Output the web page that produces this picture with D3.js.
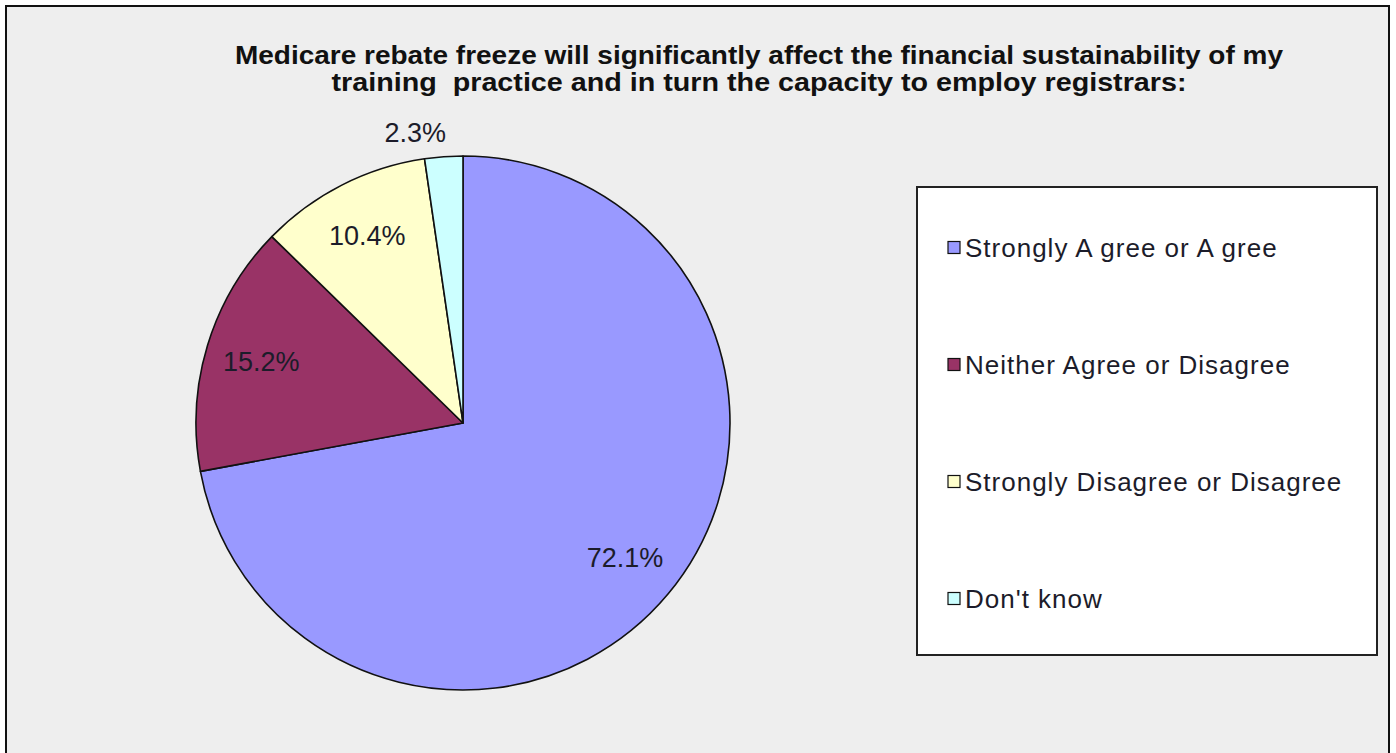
<!DOCTYPE html>
<html>
<head>
<meta charset="utf-8">
<script src="https://cdn.jsdelivr.net/npm/d3@7"></script>
<style>
  html, body { margin: 0; padding: 0; background: #ffffff; }
  svg { display: block; }
  .title { white-space: pre; }
</style>
</head>
<body>
<svg id="chart" width="1396" height="753"></svg>
<script>
// Survey responses (percent of respondents)
const categories = [
  "Strongly Agree or Agree",
  "Neither Agree or Disagree",
  "Strongly Disagree or Disagree",
  "Don't know"
];
const values = [72.1, 15.2, 10.4, 2.3];
const valueLabels = ["72.1%", "15.2%", "10.4%", "2.3%"];
const legendLabels = [
  "Strongly A gree or A gree",
  "Neither Agree or Disagree",
  "Strongly Disagree or Disagree",
  "Don't know"
];
const colors = ["#9999ff", "#993366", "#ffffcc", "#ccffff"];
const titleLines = [
  "Medicare rebate freeze will significantly affect the financial sustainability of my",
  "training  practice and in turn the capacity to employ registrars:"
];

const svg = d3.select("#chart");

// Chart area frame
svg.append("rect")
  .attr("x", 6).attr("y", 6)
  .attr("width", 1383).attr("height", 760)
  .attr("fill", "#eeeeee")
  .attr("stroke", "#111").attr("stroke-width", 2);

// Title (two lines, bold, condensed)
const titleWidths = [1048, 855];
const titleBaselines = [64, 91];
titleLines.forEach((t, i) => {
  svg.append("text")
    .attr("class", "title")
    .attr("x", 759).attr("y", titleBaselines[i])
    .attr("text-anchor", "middle")
    .attr("font-family", "Liberation Sans, Arial, sans-serif")
    .attr("font-weight", "bold")
    .attr("font-size", 26)
    .attr("fill", "#111")
    .attr("textLength", titleWidths[i])
    .attr("lengthAdjust", "spacingAndGlyphs")
    .text(t);
});

// Pie
const cx = 463, cy = 423, radius = 267;
const color = d3.scaleOrdinal().domain(categories).range(colors);

const pie = d3.pie()
  .sort(null)
  .value((d, i) => values[i])
  .startAngle(0)
  .endAngle(2 * Math.PI);

const arcs = pie(categories);
const arc = d3.arc().innerRadius(0).outerRadius(radius);

const g = svg.append("g").attr("transform", `translate(${cx},${cy})`);

g.selectAll("path.slice")
  .data(arcs)
  .join("path")
  .attr("class", "slice")
  .attr("d", arc)
  .attr("fill", d => color(d.data))
  .attr("stroke", "#111")
  .attr("stroke-width", 1.6)
  .attr("stroke-linejoin", "round");

// Value labels: inside for large slices, just outside for small ones
const insideArc = d3.arc().innerRadius(radius * 0.79).outerRadius(radius * 0.79);
const outsideArc = d3.arc().innerRadius(radius * 1.09).outerRadius(radius * 1.09);

g.selectAll("text.value")
  .data(arcs)
  .join("text")
  .attr("class", "value")
  .each(function(d, i) {
    const small = (d.endAngle - d.startAngle) < 0.3;
    const [x, y] = (small ? outsideArc : insideArc).centroid(d);
    const sel = d3.select(this)
      .attr("x", x)
      .attr("y", y)
      .attr("dy", "0.35em")
      .attr("text-anchor", small ? (x < 0 ? "end" : "start") : "middle");
    if (small) sel.attr("dx", x < 0 ? 4 : -4);
  })
  .attr("font-family", "Liberation Sans, Arial, sans-serif")
  .attr("font-size", 27)
  .attr("fill", "#1c1c2a")
  .text((d, i) => valueLabels[i]);

// Legend
const legendBox = { x: 917, y: 187, w: 460, h: 468 };
svg.append("rect")
  .attr("x", legendBox.x).attr("y", legendBox.y)
  .attr("width", legendBox.w).attr("height", legendBox.h)
  .attr("fill", "#ffffff")
  .attr("stroke", "#222").attr("stroke-width", 2);

const ly = d3.scaleBand()
  .domain(categories)
  .range([legendBox.y, legendBox.y + legendBox.h]);

const items = svg.selectAll("g.legend-item")
  .data(categories)
  .join("g")
  .attr("class", "legend-item")
  .attr("transform", d => `translate(${legendBox.x + 31},${ly(d) + ly.bandwidth() / 2 + 2})`);

items.append("rect")
  .attr("x", 0).attr("y", -6)
  .attr("width", 12).attr("height", 12)
  .attr("fill", d => color(d))
  .attr("stroke", "#111").attr("stroke-width", 1.2);

items.append("text")
  .attr("x", 17)
  .attr("dy", "0.36em")
  .attr("font-family", "Liberation Sans, Arial, sans-serif")
  .attr("font-size", 26)
  .attr("letter-spacing", 1)
  .attr("fill", "#1c1c2a")
  .text((d, i) => legendLabels[i]);
</script>
</body>
</html>
